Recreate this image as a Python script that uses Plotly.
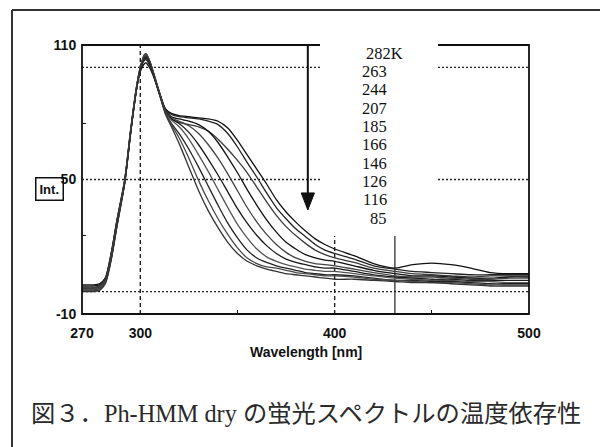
import plotly.graph_objects as go

# ---------------- data ----------------
wavelength = [270, 276, 279, 282, 285, 288, 292, 295, 298, 300,
              302, 303, 305, 307, 310, 313, 316, 320, 325, 330,
              335, 340, 345, 350, 355, 360, 365, 370, 375, 380,
              385, 390, 395, 400, 410, 420, 431, 440, 450, 460,
              470, 480, 490, 500]

temps = [282, 263, 244, 207, 185, 166, 146, 126, 116, 85]

int_282 = [3, 3, 3.5, 6, 17, 32, 50, 71, 90, 98, 101.5, 102, 99.5, 95.5, 88, 81.5,
           79.5, 78.5, 78, 77.5, 77, 76, 73, 67.5, 61, 54.5,
           48, 41, 35.5, 31, 27, 23.5, 21, 19, 16, 12.5,
           10.5, 12, 12.7, 12, 10.5, 8.5, 8, 8]
int_263 = [2.5, 2.5, 3, 6, 17, 32, 50, 72, 91, 99, 103, 103.5, 100.5, 96, 88, 81,
           79, 78, 77.5, 77, 76, 74.5, 70.5, 64.5, 57.5, 51,
           44, 37.5, 32.5, 28, 24.5, 21, 18.5, 17, 14.5, 11.5,
           10, 9, 8.5, 8, 7.5, 7.5, 7.5, 7.5]
int_244 = [2, 2, 2.5, 5.5, 16, 31, 49, 71, 90, 99, 103.5, 104, 101, 96, 88, 80.5,
           77, 75.5, 74.5, 73.5, 71.5, 68, 63.5, 58.5, 53, 46.5,
           40, 34, 29, 25, 21.5, 18.5, 16.5, 15, 13, 10.5,
           9, 8, 7.5, 7, 6.5, 7, 7, 7]
int_207 = [1.5, 1.5, 2, 5, 16, 31, 49, 71, 90, 99, 104, 104.5, 101.5, 96.5, 88, 81,
           78, 77, 76, 74.5, 71.5, 66.5, 60, 53, 45.5, 38.5,
           32, 26.5, 22, 19, 16.5, 15, 14, 13.5, 11.5, 9.5,
           8, 7, 7, 6.5, 6, 6, 6.5, 6.5]
int_185 = [1.5, 1.5, 2, 5, 16, 31, 50, 72, 91, 100, 105, 105.5, 102, 97, 88.5, 81,
           77.5, 76, 74, 70.5, 65.5, 59.5, 52.5, 45, 37.5, 31,
           25.5, 21, 17.5, 15, 13.5, 12.5, 12, 11.5, 10, 8.5,
           7, 6.5, 6.5, 6, 5.5, 5.5, 6, 6]
int_166 = [1, 1, 1.5, 4.5, 15, 30, 49, 71, 91, 100, 105.5, 106, 102.5, 97, 88.5, 80.5,
           77, 75, 71, 65.5, 59, 52, 44.5, 37, 30.5, 25,
           20.5, 17, 14.5, 13, 12, 11, 10.5, 10.5, 9, 7.5,
           6.5, 6, 5.5, 5.5, 5, 5, 5, 5]
int_146 = [1, 1, 1.5, 4.5, 15, 30, 49, 71, 90, 99.5, 104.5, 105, 102, 96.5, 88, 80,
           76.5, 73.5, 68, 61, 53.5, 45.5, 37.5, 30, 24, 19,
           15.5, 13.5, 12, 11, 10, 9.5, 9, 9, 8, 7,
           6, 5.5, 5, 5, 4.5, 4.5, 4, 4]
int_126 = [0.5, 0.5, 1, 4, 14.5, 29.5, 48.5, 70.5, 90, 99, 104, 104.5, 101.5, 96, 87.5, 79.5,
           75, 70.5, 63.5, 55.5, 47, 38.5, 30.5, 24, 18.5, 15,
           13, 11.5, 10.5, 9.5, 8.5, 8, 7.5, 7.5, 7, 6,
           5, 5, 4.5, 4.5, 4, 3.5, 3.5, 3.5]
int_116 = [0.5, 0.5, 1, 4, 14.5, 29.5, 49, 71, 91, 100, 105.5, 106, 102.5, 97, 88, 79.5,
           74.5, 68.5, 59.5, 49.5, 40.5, 32.5, 25.5, 19.5, 15, 12.5,
           11, 10.5, 9.5, 8.5, 8, 7.5, 7, 7, 6.5, 5.5,
           5, 4.5, 4, 4, 3.5, 3, 3, 3]
int_85 = [0, 0, 0.5, 3.5, 14, 29, 48.5, 70.5, 90, 99.5, 104.5, 105, 102, 96.5, 87.5, 79,
          73.5, 66, 55.5, 45, 36, 28.5, 22, 17, 13.5, 11.5,
          10, 9, 8, 7.5, 7, 6.5, 6, 5.5, 5.5, 5,
          4.5, 4, 4, 3.5, 3, 2.5, 2.5, 2.5]

series = [int_282, int_263, int_244, int_207, int_185,
          int_166, int_146, int_126, int_116, int_85]

x_ticks = [270, 300, 400, 500]
y_ticks = [-10, 50, 110]
grid_y = [0, 50, 100]
grid_x = [300, 400]
cursor_x = 431
arrow_x = 386.2

caption = "図３．Ph-HMM dry の蛍光スペクトルの温度依存性"

# ---------------- layout helpers ----------------
W, H = 600, 447
L, R, T, B = 82, 529, 45, 314


def pxx(x):
    return (x - L) / (R - L)


def pxy(y):
    return (B - y) / (B - T)


NARROW = "Liberation Sans, Arial, sans-serif"
SERIF = "Liberation Serif, Times New Roman, serif"

line_colors = ["#111111", "#222222", "#3a3a3a", "#111111", "#444444",
               "#1a1a1a", "#555555", "#222222", "#4a4a4a", "#333333"]

fig = go.Figure()
for vals, col in zip(series, line_colors):
    fig.add_trace(go.Scatter(
        x=wavelength, y=vals, mode="lines",
        line=dict(color=col, width=1.3, shape="spline", smoothing=0.7),
        showlegend=False, hoverinfo="skip"))

shapes = []
for gy in grid_y:
    shapes.append(dict(type="line", xref="x", yref="y", x0=270, x1=500, y0=gy, y1=gy,
                       line=dict(color="#222", width=1.4, dash="2px,2px"), layer="below"))
for gx in grid_x:
    shapes.append(dict(type="line", xref="x", yref="y", x0=gx, x1=gx, y0=-10, y1=110,
                       line=dict(color="#222", width=1.4, dash="4px,3px"), layer="below"))
shapes.append(dict(type="line", xref="x", yref="y", x0=cursor_x, x1=cursor_x, y0=-10, y1=110,
                   line=dict(color="#222", width=1.2), layer="below"))
# plot frame
shapes.append(dict(type="rect", xref="paper", yref="paper", x0=0, x1=1, y0=0, y1=1,
                   line=dict(color="#111", width=1.8), fillcolor="rgba(0,0,0,0)", layer="above"))
# outer figure frame (left + top)
shapes.append(dict(type="line", xref="paper", yref="paper", x0=pxx(12), x1=pxx(12),
                   y0=pxy(10), y1=pxy(470), line=dict(color="#333", width=2), layer="above"))
shapes.append(dict(type="line", xref="paper", yref="paper", x0=pxx(12), x1=pxx(610),
                   y0=pxy(10), y1=pxy(10), line=dict(color="#333", width=2), layer="above"))
# white label box covering frame / grid
shapes.append(dict(type="rect", xref="paper", yref="paper", x0=pxx(320), x1=pxx(438),
                   y0=pxy(236), y1=pxy(38), line=dict(width=0), fillcolor="white", layer="above"))
# arrow
shapes.append(dict(type="line", xref="x", yref="y", x0=arrow_x, x1=arrow_x, y0=110, y1=43,
                   line=dict(color="#111", width=2), layer="above"))
shapes.append(dict(type="path", xref="x", yref="y",
                   path=f"M {arrow_x-3.4},44 L {arrow_x+3.4},44 L {arrow_x},36.4 Z",
                   fillcolor="#111", line=dict(color="#111", width=1), layer="above"))

annotations = []
LAB_SIZE = 16.5
for i, t in enumerate(temps):
    ypx = 53.3 + 18.3 * i
    if i == 0:
        annotations.append(dict(xref="paper", yref="paper", x=pxx(389 - 3 * LAB_SIZE * 0.5), y=pxy(ypx),
                                xanchor="left", yanchor="middle", text=f"{t}K", showarrow=False,
                                font=dict(family=SERIF, size=LAB_SIZE, color="#111")))
    else:
        annotations.append(dict(xref="paper", yref="paper", x=pxx(389), y=pxy(ypx),
                                xanchor="right", yanchor="middle", text=str(t), showarrow=False,
                                font=dict(family=SERIF, size=LAB_SIZE, color="#111")))
annotations.append(dict(xref="paper", yref="paper", x=pxx(49.5), y=pxy(188.5),
                        xanchor="center", yanchor="middle", text="Int.", showarrow=False,
                        font=dict(family=NARROW, size=13, color="#111", weight="bold"),
                        bordercolor="#111", borderwidth=1.5, borderpad=3))
annotations.append(dict(xref="paper", yref="paper", x=pxx(305.5), y=pxy(352),
                        xanchor="center", yanchor="middle", text="Wavelength [nm]", showarrow=False,
                        font=dict(family=NARROW, size=14, color="#111", weight="bold")))
annotations.append(dict(xref="paper", yref="paper", x=pxx(29), y=pxy(413),
                        xanchor="left", yanchor="middle", text=caption, showarrow=False,
                        font=dict(family="Liberation Serif, Noto Sans CJK JP", size=24.3, color="#2a2a2a")))

fig.update_layout(
    width=W, height=H,
    margin=dict(l=L, r=W - R, t=T, b=H - B),
    paper_bgcolor="white", plot_bgcolor="white",
    shapes=shapes, annotations=annotations,
    xaxis=dict(range=[270, 500], tickvals=x_ticks, ticktext=[str(v) for v in x_ticks],
               showgrid=False, zeroline=False, showline=False, ticks="outside", ticklen=0,
               ticklabelstandoff=6,
               tickfont=dict(family=NARROW, size=14, color="#111", weight="bold"),
               minor=dict(tickvals=[350, 450], ticks="inside", ticklen=4, tickcolor="#111",
                          showgrid=False)),
    yaxis=dict(range=[-10, 110], tickvals=y_ticks, ticktext=[str(v) for v in y_ticks],
               showgrid=False, zeroline=False, showline=False, ticks="outside", ticklen=0,
               ticklabelstandoff=2,
               tickfont=dict(family=NARROW, size=14, color="#111", weight="bold"),
               minor=dict(tickvals=[25, 75], ticks="inside", ticklen=4, tickcolor="#111",
                          showgrid=False)),
)

fig.write_html("out.html")
